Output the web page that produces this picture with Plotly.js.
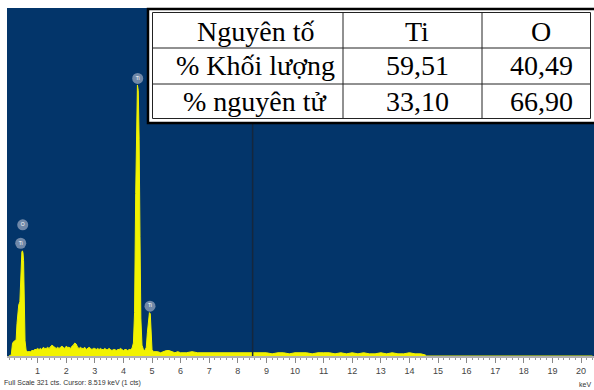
<!DOCTYPE html>
<html><head><meta charset="utf-8">
<script src="https://cdn.plot.ly/plotly-3.0.1.min.js"></script>
<style>html,body{margin:0;padding:0;background:#fff;}#chart{width:594px;height:390px;}</style>
</head><body><div id="chart"></div>
<script>
// EDX spectrum: energy (keV) and counts
const energyKeV = [0.00,0.08,0.12,0.15,0.20,0.25,0.28,0.31,0.34,0.38,0.41,0.43,0.45,0.47,0.49,0.51,0.53,0.56,0.60,0.65,
0.70,0.75,0.80,0.85,0.90,0.95,1.00,1.05,1.10,1.15,1.20,1.25,1.30,1.35,1.40,1.45,1.50,1.55,1.60,1.65,1.70,1.75,1.80,1.85,1.90,1.95,2.00,2.05,2.10,2.15,2.20,2.25,2.30,2.35,2.40,2.45,2.50,2.55,2.60,2.65,2.70,2.75,2.80,2.85,2.90,2.95,3.00,3.05,3.10,3.15,3.20,3.25,3.30,3.35,3.40,3.45,3.50,3.55,3.60,3.65,3.70,3.75,3.80,3.85,3.90,3.95,4.00,4.05,4.10,4.15,4.20,4.25,4.30,
4.35,4.39,4.43,4.46,4.49,4.52,4.55,4.58,4.61,4.65,4.70,4.75,4.80,4.84,4.88,4.91,4.94,4.97,5.00,5.05,
5.10,5.20,5.30,5.40,5.50,5.60,5.70,5.80,5.90,6.00,6.20,6.40,6.60,6.80,7.00,7.20,7.40,7.60,7.80,8.00,8.20,8.40,8.60,8.80,9.00,9.20,9.40,9.60,9.80,10.00,10.20,10.40,10.60,10.80,11.00,11.20,11.40,11.60,11.80,12.00,12.20,12.40,12.60,12.80,13.00,13.20,13.40,13.60,13.80,14.00,14.20,14.40,14.55,14.60,20.40];
const counts = [0,1,11,13,14,15,30,44,47,50,78,92,96,97,95,88,45,14,5,4,
4,4,5,5,6,6,7,6,7,6,8,7,7,8,7,9,10,9,8,7,8,7,8,9,8,7,9,8,8,7,9,10,12,11,8,7,8,7,7,8,6,7,8,7,6,7,7,6,7,6,7,6,6,7,6,6,7,6,5,6,6,5,6,6,7,6,5,6,6,5,6,6,7,
12,40,150,235,250,245,200,110,35,10,6,5,8,22,38,40,39,20,6,4,
4,4,3,4,5,5,4,3,4,3,3,4,3,3,3,3,3,3,3,3,3,3,3,3,3,2,3,3,2,3,3,3,2,3,3,3,2,3,2,3,2,3,2,2,3,2,3,2,2,3,2,2,1,0,0];
// peak labels
const labelText = ["O","Ti","Ti","Ti"];
const labelE = [0.48,0.41,4.50,4.93];
const labelCts = [121,104,256,46];
// cursor & footer
const cursorE = 8.519;
const fullScale = 321;
const footerText = "Full Scale 321 cts. Cursor: 8.519 keV (1 cts)";
// table
const tableHeader = ["Nguyên tố","Ti","O"];
const tableRow1 = ["% Khối lượng","59,51","40,49"];
const tableRow2 = ["% nguyên tử","33,10","66,90"];
const tickVals = [1,2,3,4,5,6,7,8,9,10,11,12,13,14,15,16,17,18,19,20];

const L=7, R=594, T=8, B=356;
const px = X => (X-L)/(R-L);
const py = Y => (B-Y)/(B-T);
const SERIF = "Times New Roman, Tinos, DejaVu Serif, Noto Serif, serif";

const shapes = [];
const annotations = [];
// cursor line
shapes.push({type:'line', xref:'x', yref:'paper', x0:cursorE, x1:cursorE, y0:0, y1:1, line:{color:'#15273d', width:1.5}, layer:'above'});
// table frame
shapes.push({type:'rect', xref:'paper', yref:'paper', x0:px(148), x1:px(596), y0:py(123), y1:py(9), fillcolor:'#ffffff', line:{color:'#000000', width:2.5}, layer:'above'});
shapes.push({type:'rect', xref:'paper', yref:'paper', x0:px(152.5), x1:px(590.5), y0:py(118.5), y1:py(12.5), line:{color:'#222222', width:1}, layer:'above'});
[48,84].forEach(y=>shapes.push({type:'line', xref:'paper', yref:'paper', x0:px(152.5), x1:px(590.5), y0:py(y), y1:py(y), line:{color:'#222222', width:1}, layer:'above'}));
[343,482].forEach(x=>shapes.push({type:'line', xref:'paper', yref:'paper', x0:px(x), x1:px(x), y0:py(12.5), y1:py(118.5), line:{color:'#222222', width:1}, layer:'above'}));
const colX = [255,417,541];
const rowY = [31,66,101];
[tableHeader,tableRow1,tableRow2].forEach((row,ri)=>{
  row.forEach((t,ci)=>{
    annotations.push({xref:'paper', yref:'paper', x:px(colX[ci]), y:py(rowY[ri]), xanchor:'center', yanchor:'middle', text:t, showarrow:false,
      font:{family:SERIF, size:28, color:'#000'}});
  });
});
annotations.push({xref:'paper', yref:'paper', x:px(2), y:py(383), xanchor:'left', yanchor:'middle', text:footerText, showarrow:false, font:{family:'Liberation Sans', size:7, color:'#333'}});
annotations.push({xref:'paper', yref:'paper', x:px(593), y:py(384), xanchor:'right', yanchor:'middle', text:'keV', showarrow:false, font:{family:'Liberation Sans', size:7, color:'#333'}});

const traces = [
  {x:energyKeV, y:counts, type:'scatter', mode:'lines', fill:'tozeroy', fillcolor:'#f2f200', line:{color:'#f2f200', width:1}, hoverinfo:'skip'},
  {x:labelE, y:labelCts, type:'scatter', mode:'markers+text', text:labelText, textposition:'middle center',
    marker:{size:11, color:'rgba(185,192,210,0.6)'}, textfont:{size:5, color:'#ffffff', family:'Liberation Sans'}, hoverinfo:'skip'}
];
const layout = {
  width:594, height:390, margin:{l:L, r:0, t:T, b:390-B},
  paper_bgcolor:'#ffffff', plot_bgcolor:'#03356a', showlegend:false,
  xaxis:{range:[(L-9)/28.6,(R-9)/28.6], tickvals:tickVals, ticks:'outside', ticklen:5, tickcolor:'#888', tickwidth:1,
    minor:{dtick:0.2, ticks:'outside', ticklen:2, tickcolor:'#999'},
    showline:true, linecolor:'#b0b0b0', linewidth:2, showgrid:false, zeroline:false,
    tickfont:{family:'Liberation Sans', size:9, color:'#444'}},
  yaxis:{range:[0,fullScale], visible:false, showgrid:false, zeroline:false},
  shapes:shapes, annotations:annotations
};
Plotly.newPlot('chart', traces, layout, {staticPlot:true, displayModeBar:false});
</script></body></html>
